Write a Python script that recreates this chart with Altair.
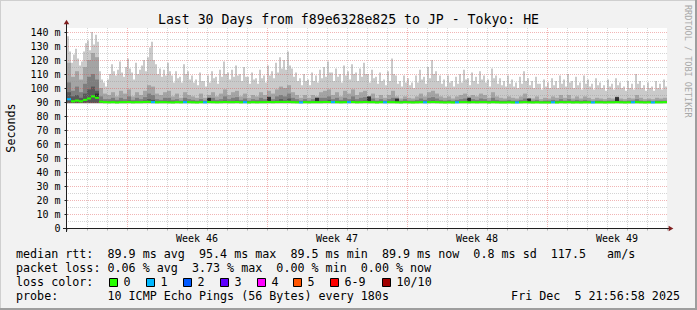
import altair as alt
import pandas as pd

# ---------------- data ----------------
n_cols = 150          # smoke columns across the 30-day window (4 px each)
n_fine = 300          # finer columns for the max-ping outline (2 px each)
days_total = 30
smoke_floor = 89.2    # lowest ping (ms)

# top of the lightest smoke (max ping, ms), 0.1 day per value
p_max = [137, 126, 118, 124, 128, 121, 116, 119, 126, 132, 134, 127, 140, 131, 138, 133, 112, 106, 104, 101,
         106, 110, 117, 112, 109, 113, 119, 111, 108, 115, 121, 114, 111, 106, 118, 110, 113, 116, 120, 112,
         122, 129, 133, 120, 117, 110, 114, 108, 113, 109, 118, 112, 109, 104, 112, 107, 108, 104, 117, 110,
         112, 106, 109, 104, 106, 102, 111, 105, 105, 101, 109, 104, 112, 107, 108, 103, 113, 108, 119, 110,
         111, 106, 113, 108, 116, 109, 110, 105, 115, 108, 108, 103, 111, 106, 107, 103, 113, 107, 109, 104,
         116, 109, 112, 107, 118, 111, 122, 114, 120, 113, 126, 116, 114, 108, 111, 105, 107, 102, 110, 105,
         106, 102, 111, 105, 109, 104, 113, 107, 115, 108, 119, 111, 111, 105, 114, 108, 110, 104, 116, 109,
         112, 106, 117, 110, 111, 105, 114, 108, 118, 110, 110, 104, 113, 107, 108, 103, 111, 105, 106, 102,
         112, 105, 121, 110, 109, 103, 105, 101, 109, 104, 107, 102, 104, 100, 109, 104, 113, 106, 108, 103,
         115, 107, 120, 110, 112, 105, 109, 103, 106, 101, 109, 104, 105, 101, 108, 103, 110, 104, 113, 106,
         107, 102, 111, 105, 108, 103, 112, 106, 109, 104, 106, 101, 114, 107, 109, 103, 107, 102, 105, 101,
         109, 103, 106, 101, 104, 100, 108, 103, 112, 105, 107, 102, 105, 100, 108, 103, 103, 99, 106, 101,
         104, 100, 107, 102, 105, 100, 109, 103, 106, 101, 110, 104, 105, 100, 108, 102, 104, 99, 109, 103,
         106, 101, 103, 99, 107, 102, 104, 100, 102, 98, 106, 101, 103, 99, 107, 102, 104, 100, 101, 98,
         105, 100, 103, 99, 110, 103, 105, 100, 102, 98, 104, 100, 101, 98, 105, 100, 103, 99, 106, 101]

# second-highest ping (medium smoke), 0.2 day per value
p_hi = [118, 108, 112, 106, 115, 120, 125, 122, 100, 96,
        95, 97, 94, 98, 96, 99, 94, 97, 95, 98,
        102, 101, 96, 95, 97, 98, 94, 96, 93, 97,
        95, 94, 93, 96, 93, 95, 97, 94, 96, 99,
        95, 97, 98, 94, 96, 93, 95, 94, 97, 95,
        98, 96, 99, 101, 100, 102, 97, 95, 93, 95,
        93, 95, 94, 97, 98, 99, 95, 97, 94, 98,
        96, 99, 95, 97, 98, 94, 96, 93, 95, 93,
        95, 98, 94, 92.5, 94, 93, 92.5, 94, 96, 94,
        97, 98, 96, 94, 93, 94, 92.5, 94, 95, 96,
        94, 95, 94, 96, 95, 93, 97, 94, 93, 92.5,
        94, 93, 92.5, 94, 96, 93, 92.5, 94, 92, 93,
        92.5, 94, 93, 95, 93, 95, 92.5, 94, 92.5, 94,
        93, 92, 93, 92.5, 92, 93, 92.5, 94, 92.5, 92,
        93, 92.5, 95, 93, 92, 92.5, 92, 93, 92.5, 93]

# third ping (dark smoke)
p_dk = [104, 98, 101, 97, 103, 108, 110, 106, 94, 92,
        92, 93, 91.5, 93, 92, 94, 91.5, 93, 92, 93.5,
        96, 95, 92, 91.5, 93, 93, 91.5, 92, 91, 93,
        92, 91.5, 91, 92, 91, 92, 93, 91.5, 92, 94,
        92, 93, 93.5, 91.5, 92.5, 91, 92, 91.5, 93, 92,
        94, 92, 94, 95, 94, 96, 93, 92, 91, 92,
        91, 92, 91.5, 93, 93, 94, 92, 93, 91.5, 93,
        92, 94, 92, 93, 93.5, 92, 92.5, 91, 92, 91,
        92, 93, 91.5, 91, 92, 91, 91, 91.5, 92.5, 91.5,
        93, 93.5, 92.5, 91.5, 91, 91.5, 91, 91.5, 92, 92.5,
        91.5, 92, 91.5, 92.5, 92, 91, 93, 91.5, 91, 91,
        91.5, 91, 91, 91.5, 92.5, 91, 91, 91.5, 90.5, 91,
        91, 91.5, 91, 92, 91, 92, 91, 91.5, 91, 91.5,
        91, 90.5, 91, 91, 90.5, 91, 91, 92, 91, 90.5,
        91, 91, 92, 91, 90.5, 91, 90.5, 91, 91, 91]

# fourth ping (darker smoke)
p_dk2 = [97, 94, 95, 93, 96, 99, 101, 98, 91, 90.5,
         90.5, 90.8, 90.4, 90.8, 90.5, 91, 90.4, 90.8, 90.5, 91,
         92, 91.5, 90.5, 90.4, 90.8, 90.8, 90.4, 90.5, 90.3, 90.8,
         90.5, 90.4, 90.3, 90.5, 90.3, 90.5, 90.8, 90.4, 90.5, 91,
         90.5, 90.8, 91, 90.4, 90.6, 90.3, 90.5, 90.4, 90.8, 90.5,
         91, 90.5, 91, 92, 91, 92.5, 90.8, 90.5, 90.3, 90.5,
         90.3, 90.5, 90.4, 90.8, 90.8, 91.5, 90.5, 90.8, 90.4, 90.8,
         90.5, 91, 90.5, 90.8, 91, 90.5, 90.6, 90.3, 90.5, 90.3,
         90.5, 90.8, 90.4, 90.3, 90.5, 90.3, 90.3, 90.4, 90.6, 90.4,
         90.8, 91, 90.6, 90.4, 90.3, 90.4, 90.3, 90.4, 90.5, 90.6,
         90.4, 90.5, 90.4, 90.6, 90.5, 90.3, 90.8, 90.4, 90.3, 90.3,
         90.4, 90.3, 90.3, 90.4, 90.6, 90.3, 90.3, 90.4, 90.2, 90.3,
         90.3, 90.4, 90.3, 90.5, 90.3, 90.5, 90.3, 90.4, 90.3, 90.4,
         90.3, 90.2, 90.3, 90.3, 90.2, 90.3, 90.3, 90.5, 90.3, 90.2,
         90.3, 90.3, 90.5, 90.3, 90.2, 90.3, 90.2, 90.3, 90.3, 90.3]

# median rtt (ms)
median = [92.0, 90.5, 91.0, 90.5, 91.5, 92.5, 94.0, 93.0, 90.2, 89.9,
          89.8, 89.9, 89.7, 89.9, 89.9, 90.0, 89.8, 89.9, 89.9, 90.0,
          90.1, 89.9, 89.8, 89.9, 89.9, 89.8, 89.7, 89.9, 89.8, 89.9,
          89.9, 89.8, 89.7, 89.9, 89.8, 90.0, 89.9, 89.8, 89.9, 90.0,
          89.9, 89.9, 90.0, 89.8, 89.9, 89.7, 89.9, 89.8, 89.9, 89.9,
          90.0, 89.9, 90.0, 90.1, 90.0, 90.1, 89.9, 89.8, 89.7, 89.9,
          89.8, 89.9, 89.9, 89.9, 90.0, 90.0, 89.9, 89.9, 89.8, 89.9,
          89.9, 90.0, 89.8, 89.9, 90.0, 89.9, 89.9, 89.7, 89.9, 89.8,
          89.9, 89.9, 89.8, 89.7, 89.9, 89.8, 89.7, 89.8, 89.9, 89.8,
          89.9, 90.0, 89.9, 89.8, 89.7, 89.8, 89.7, 89.8, 89.9, 89.9,
          89.8, 89.9, 89.8, 89.9, 89.9, 89.7, 89.9, 89.8, 89.7, 89.7,
          89.8, 89.7, 89.7, 89.8, 89.9, 89.8, 89.7, 89.8, 89.7, 89.7,
          89.7, 89.8, 89.7, 89.9, 89.8, 89.9, 89.7, 89.8, 89.7, 89.8,
          89.8, 89.7, 89.8, 89.8, 89.7, 89.8, 89.8, 89.9, 89.8, 89.7,
          89.8, 89.8, 89.9, 89.8, 89.7, 89.8, 89.7, 89.8, 89.8, 89.9]

# lost pings per column (out of 10)
loss = [1, 0, 0, 0, 0, 0, 0, 0, 0, 0,
        0, 0, 0, 0, 0, 0, 0, 0, 0, 0,
        0, 1, 0, 0, 0, 0, 0, 0, 0, 1,
        0, 0, 0, 0, 1, 0, 0, 0, 0, 0,
        0, 0, 0, 0, 1, 0, 0, 0, 0, 0,
        0, 0, 0, 0, 0, 0, 0, 0, 1, 0,
        0, 0, 0, 0, 0, 0, 1, 0, 0, 0,
        1, 0, 0, 0, 0, 0, 0, 0, 0, 1,
        0, 0, 0, 0, 0, 0, 0, 0, 0, 1,
        0, 0, 0, 0, 0, 0, 0, 1, 0, 0,
        0, 0, 0, 0, 0, 0, 0, 0, 0, 0,
        0, 0, 1, 0, 0, 0, 0, 0, 0, 0,
        0, 1, 0, 0, 0, 0, 0, 0, 0, 0,
        0, 1, 0, 0, 0, 0, 0, 0, 0, 0,
        0, 1, 0, 0, 0, 0, 1, 0, 0, 0]

# darkest smoke spikes above the median (column index -> top ms)
core_cols = [7, 35, 50, 62, 75, 82, 100, 115, 137]
core_top = [96, 93, 93.5, 93, 94, 92.5, 93, 92.5, 93.5]

y_ticks = [0, 10, 20, 30, 40, 50, 60, 70, 80, 90, 100, 110, 120, 130, 140]
minor_y = [5, 15, 25, 35, 45, 55, 65, 75, 85, 95, 105, 115, 125, 135]
major_days = [3, 10, 17, 24]
week_mid_days = [6.5, 13.5, 20.5, 27.5]
week_labels = ["Week 46", "Week 47", "Week 48", "Week 49"]

loss_labels = ["0", "1", "2", "3", "4", "5", "6-9", "10/10"]
loss_colors = ["#26ff00", "#00b8ff", "#0059ff", "#5e00ff",
               "#ff00ff", "#ff5500", "#ff0000", "#a10000"]

title_text = "Last 30 Days from f89e6328e825 to JP - Tokyo: HE"
legend_rows = [
    "median rtt:  89.9 ms avg  95.4 ms max  89.5 ms min  89.9 ms now  0.8 ms sd  117.5   am/s",
    "packet loss: 0.06 % avg  3.73 % max  0.00 % min  0.00 % now",
    "loss color:",
    "probe:       10 ICMP Echo Pings (56 Bytes) every 180s",
]
date_text = "Fri Dec  5 21:56:58 2025"
watermark = "RRDTOOL / TOBI OETIKER"

# ---------------- build tables ----------------
def loss_label(n):
    if n <= 5:
        return str(n)
    if n < 10:
        return "6-9"
    return "10/10"

df = pd.DataFrame({
    "d0": [i * days_total / n_cols for i in range(n_cols)],
    "d1": [(i + 1) * days_total / n_cols for i in range(n_cols)],
    "p_hi": p_hi, "p_dk": p_dk, "p_dk2": p_dk2,
    "median": median,
    "lossl": [loss_label(n) for n in loss],
})
df["floor"] = smoke_floor
df["m_lo"] = df["median"] - 0.75
df["m_hi"] = df["median"] + 0.75
core_df = df.iloc[core_cols].copy()
core_df["core"] = core_top

dfm = pd.DataFrame({
    "d0": [i * days_total / n_fine for i in range(n_fine)],
    "d1": [(i + 1) * days_total / n_fine for i in range(n_fine)],
    "p_max": p_max,
})
dfm["floor"] = smoke_floor

MONO = "DejaVu Sans Mono"
PLOT_W, PLOT_H = 600, 200
OX, OY = 67, 28          # plot origin inside the image

xscale = alt.Scale(domain=[0, days_total], nice=False, zero=False)
yscale = alt.Scale(domain=[0, PLOT_H / 1.4], nice=False, zero=True)
xaxis = alt.Axis(values=list(range(0, 31)), labels=False, ticks=True, tickSize=2,
                 tickColor="#b0b0b0", domain=False, grid=False, title=None)
yaxis = alt.Axis(values=y_ticks,
                 labelExpr="datum.value == 0 ? '0\u00a0\u00a0' : datum.value + '\u00a0m'",
                 labelFont=MONO, labelFontSize=10, labelColor="#000000",
                 labelPadding=4, labelFlush=False, tickSize=3, tickColor="#1f1f1f",
                 domain=False, grid=False, title=None)


def smoke(data, top, color):
    return alt.Chart(data).mark_rect(color=color, strokeWidth=0).encode(
        x=alt.X("d0:Q", scale=xscale, axis=xaxis),
        x2="d1:Q",
        y=alt.Y("floor:Q", scale=yscale, axis=yaxis),
        y2=f"{top}:Q",
    )


layers = [
    smoke(dfm, "p_max", "#cacaca"),
    smoke(df, "p_hi", "#a4a4a4"),
    smoke(df, "p_dk", "#7e7e7e"),
    smoke(df, "p_dk2", "#585858"),
    alt.Chart(core_df).mark_rect(color="#323232", strokeWidth=0).encode(
        x=alt.X("d0:Q", scale=xscale, axis=xaxis), x2="d1:Q",
        y=alt.Y("median:Q", scale=yscale, axis=yaxis), y2="core:Q"),
]

# grid (drawn over the smoke, as rrdtool does)
minor_days = [d for d in range(1, days_total) if d not in major_days]
GRID_C, GRID_O = "#8f8f8f", 0.38
MGRID_C, MGRID_O = "#de4f4f", 0.42
layers += [
    alt.Chart(pd.DataFrame({"v": minor_y})).mark_rule(
        color=GRID_C, opacity=GRID_O, strokeDash=[1, 1], strokeWidth=1, yOffset=0.5
    ).encode(y=alt.Y("v:Q", scale=yscale, axis=yaxis)),
    alt.Chart(pd.DataFrame({"d": minor_days})).mark_rule(
        color=GRID_C, opacity=GRID_O, strokeDash=[1, 1], strokeWidth=1, xOffset=0.5
    ).encode(x=alt.X("d:Q", scale=xscale, axis=xaxis)),
    alt.Chart(pd.DataFrame({"v": y_ticks[1:]})).mark_rule(
        color=MGRID_C, opacity=MGRID_O, strokeDash=[1, 1], strokeWidth=1, yOffset=0.5
    ).encode(y=alt.Y("v:Q", scale=yscale, axis=yaxis)),
    alt.Chart(pd.DataFrame({"d": major_days})).mark_rule(
        color=MGRID_C, opacity=MGRID_O, strokeDash=[1, 1], strokeWidth=1, xOffset=0.5
    ).encode(x=alt.X("d:Q", scale=xscale, axis=xaxis)),
]

# median line coloured by loss
layers.append(
    alt.Chart(df).mark_rect(strokeWidth=0).encode(
        x=alt.X("d0:Q", scale=xscale, axis=xaxis), x2="d1:Q",
        y=alt.Y("m_lo:Q", scale=yscale, axis=yaxis), y2="m_hi:Q",
        color=alt.Color("lossl:N", scale=alt.Scale(domain=loss_labels, range=loss_colors),
                        legend=None),
    )
)

one = pd.DataFrame({"a": [0]})


def rule(x, x2, y, y2, color):
    return alt.Chart(one).mark_rect(color=color, strokeWidth=0).encode(
        x=alt.value(x), x2=alt.value(x2), y=alt.value(y), y2=alt.value(y2))


def text(t, x, y, size=11.7, align="left", baseline="alphabetic", angle=0,
         color="#000000"):
    return alt.Chart(one).mark_text(
        text=t.replace(" ", "\u00a0"), font=MONO, fontSize=size, align=align,
        baseline=baseline, angle=angle, color=color
    ).encode(x=alt.value(x), y=alt.value(y))


# axes lines and arrows
layers += [
    rule(-1, 0, -6, 204, "#1f1f1f"),
    rule(-4, 604, 200, 201, "#1f1f1f"),
    alt.Chart(one).mark_point(shape="triangle-up", filled=True, size=30,
                              color="#801f1f", opacity=1).encode(
        x=alt.value(-0.5), y=alt.value(-6)),
    alt.Chart(one).mark_point(shape="triangle-right", filled=True, size=30,
                              color="#801f1f", opacity=1).encode(
        x=alt.value(604), y=alt.value(200.5)),
]

# week labels
layers.append(
    alt.Chart(pd.DataFrame({"d": week_mid_days, "t": week_labels})).mark_text(
        font=MONO, fontSize=10, align="center", baseline="alphabetic", color="#000000"
    ).encode(x=alt.X("d:Q", scale=xscale, axis=xaxis), y=alt.value(213.5), text="t:N")
)

# title, y label, watermark
layers += [
    text(title_text, 348.5 - OX, 24 - OY, size=13.2, align="center"),
    text("Seconds", 10.5 - OX, 128 - OY, align="center", baseline="middle", angle=270),
    text(watermark, 687.5 - OX, 5 - OY, size=8.5, align="left", baseline="middle",
         angle=90, color="#a8a8a8"),
]

# legend rows
row_base = [258, 272, 286, 300]
for t, yb in zip(legend_rows, row_base):
    layers.append(text(t, 16 - OX, yb - OY))
layers.append(text(date_text, 680 - OX, 300 - OY, align="right"))

box_x = [109, 146, 183, 220, 257, 293, 330, 382]
for bx, lab, col in zip(box_x, loss_labels, loss_colors):
    layers.append(
        alt.Chart(one).mark_rect(color=col, stroke="#000000", strokeWidth=1).encode(
            x=alt.value(bx - OX + 0.5), x2=alt.value(bx - OX + 8.5),
            y=alt.value(278.5 - OY), y2=alt.value(286.5 - OY))
    )
    layers.append(text(lab, bx - OX + 14.5, 286 - OY))

# image frame shading
layers += [
    rule(-OX, 697 - OX, -OY, -OY + 1, "#cfcfcf"),
    rule(-OX, -OX + 1, -OY, 310 - OY, "#cfcfcf"),
    rule(-OX, 697 - OX, 310 - OY - 2, 310 - OY, "#9e9e9e"),
    rule(697 - OX - 2, 697 - OX, -OY, 310 - OY, "#9e9e9e"),
]

chart = alt.layer(*layers).properties(
    width=PLOT_W, height=PLOT_H,
    padding={"left": OX, "top": OY, "right": 697 - OX - PLOT_W, "bottom": 310 - OY - PLOT_H},
    autosize=alt.AutoSizeParams(type="none"),
    background="#f2f2f2",
).configure_view(fill="#ffffff", strokeWidth=0)

chart.save("out.html", embed_options={"renderer": "svg", "actions": False})
